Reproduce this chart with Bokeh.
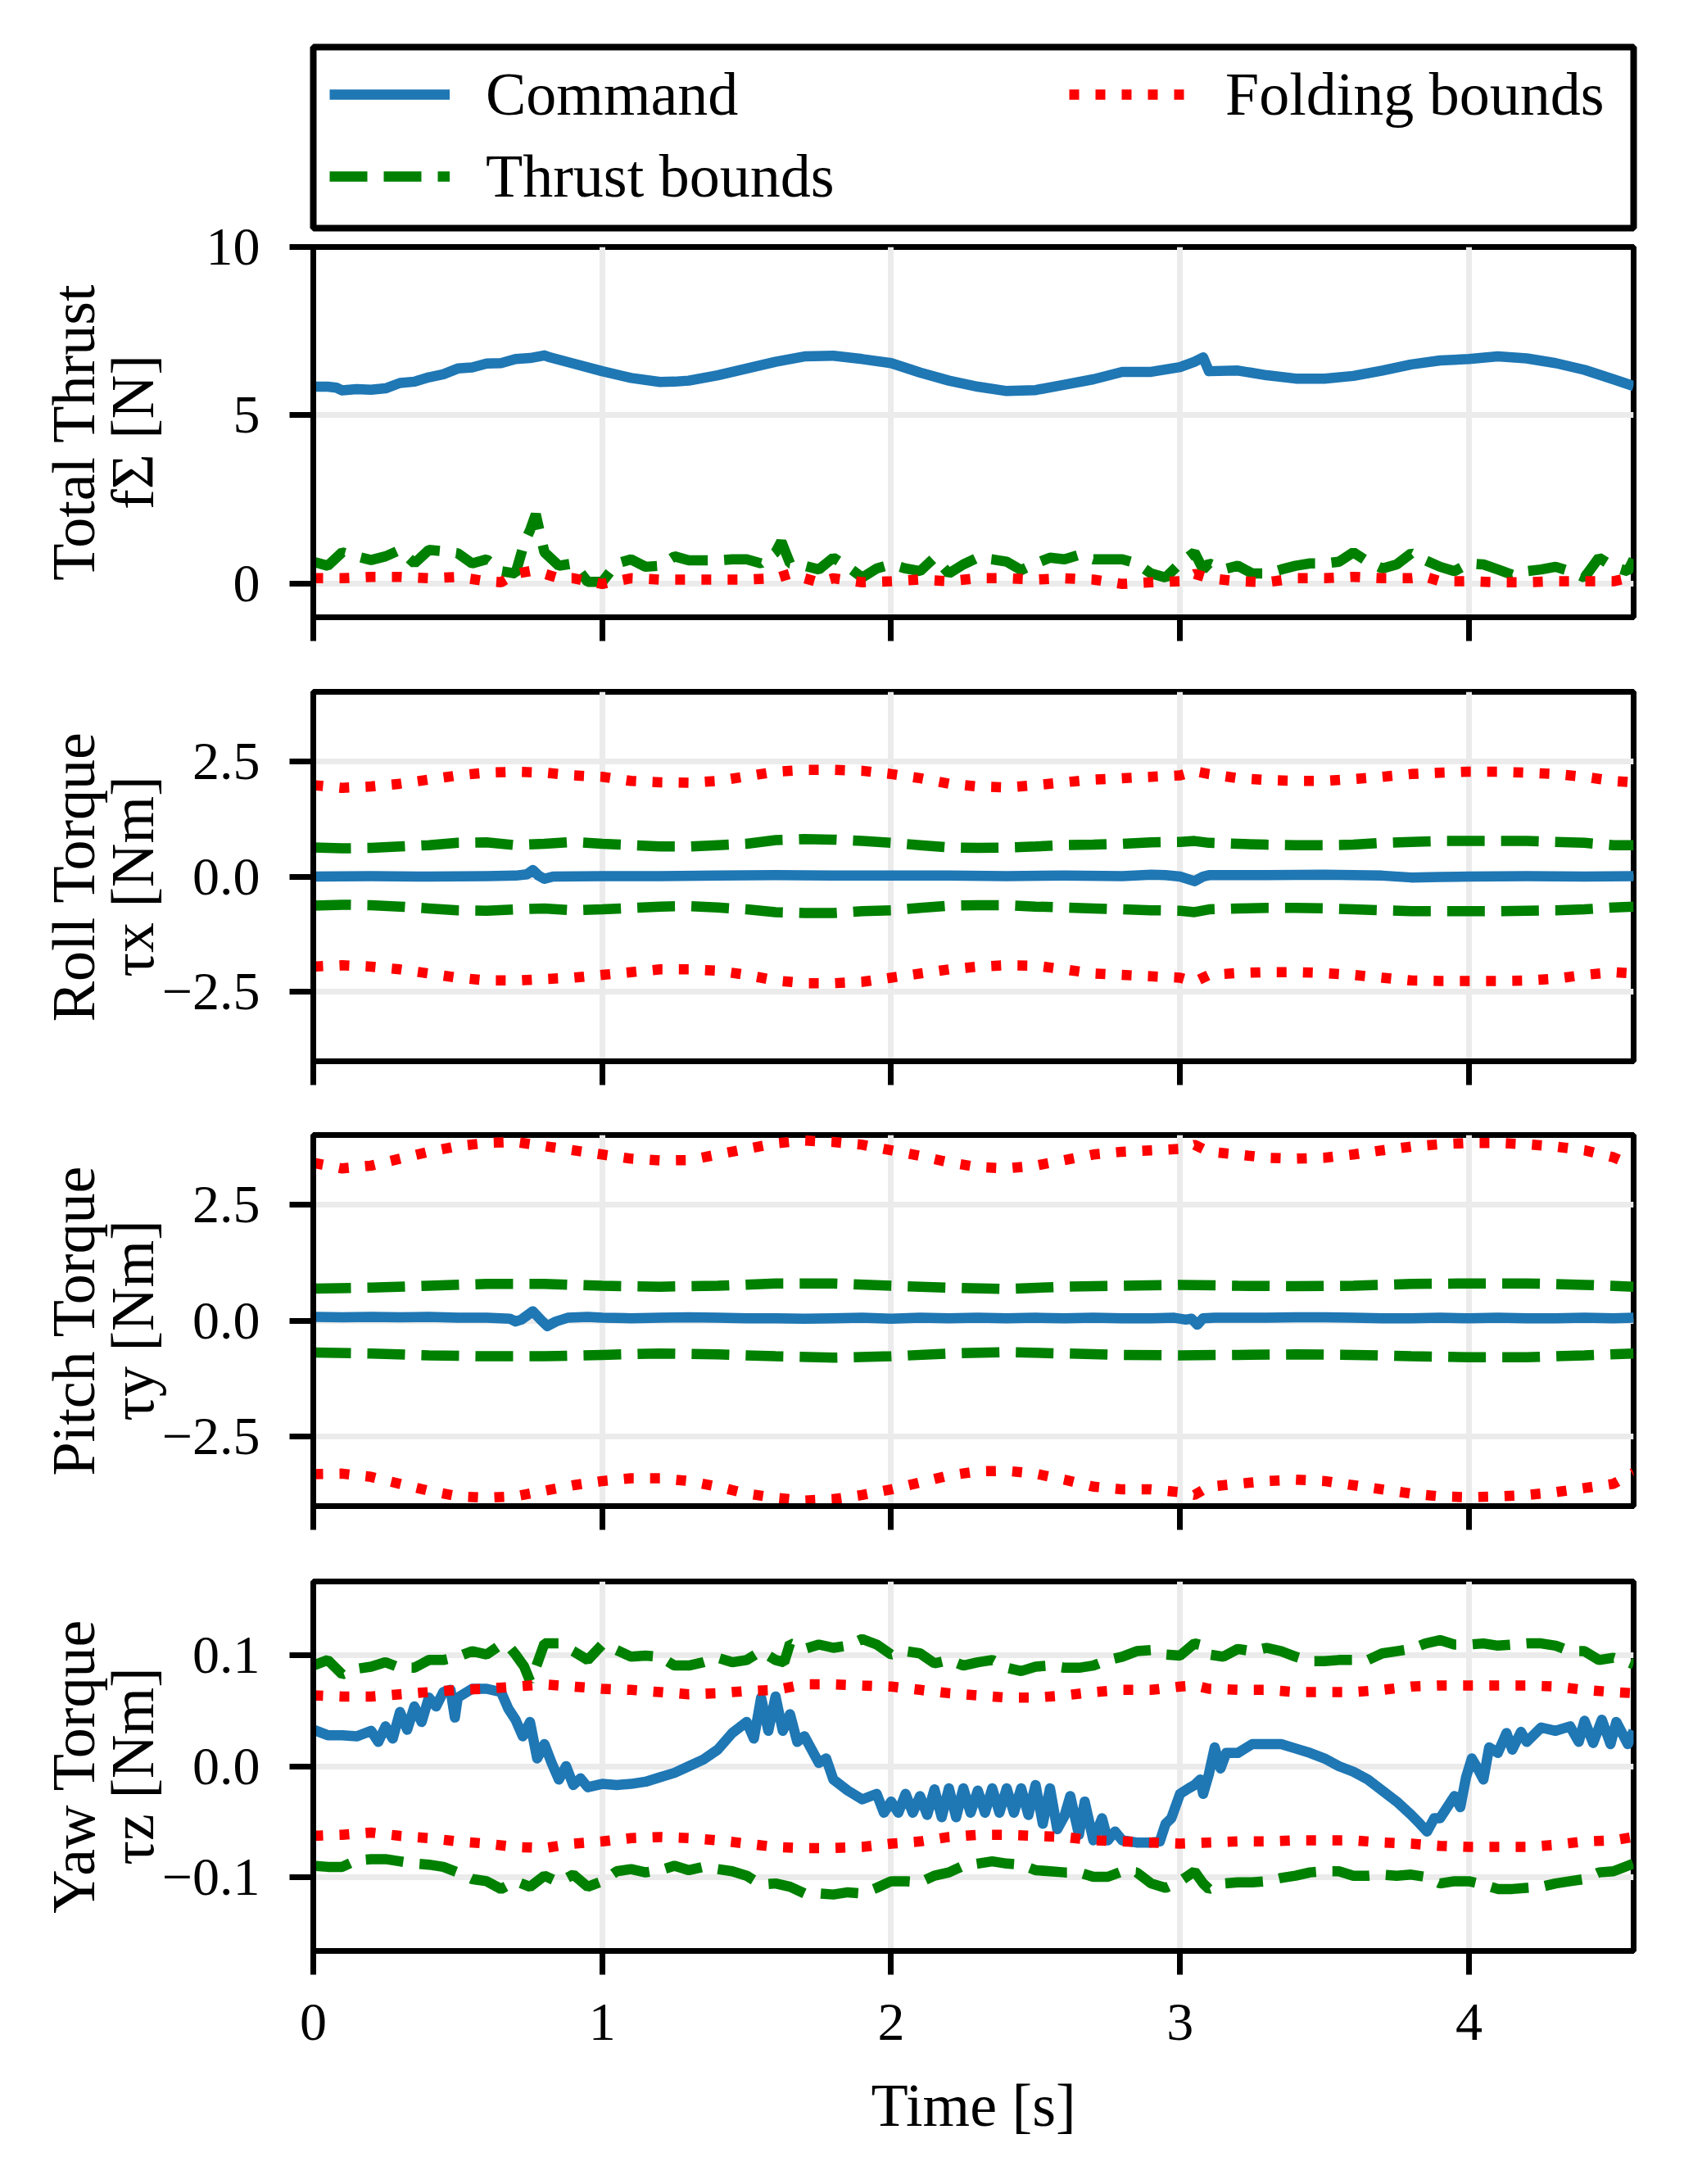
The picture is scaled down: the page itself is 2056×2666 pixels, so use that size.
from bokeh.plotting import figure
from bokeh.models import Range1d, FixedTicker, Legend, LegendItem
from bokeh.layouts import column
from bokeh.embed import file_html
from bokeh.resources import INLINE

# ---------------- data ----------------
X_TICKS = [0, 1, 2, 3, 4]
X_MAX = 4.57

# Panel 1: total thrust [N]
thrust_cmd_pts = [(0.0, 5.85), (0.05, 5.85), (0.08, 5.82), (0.1, 5.74), (0.15, 5.78), (0.2, 5.76), (0.25, 5.8),
                  (0.3, 5.96), (0.35, 6.0), (0.4, 6.13), (0.45, 6.22), (0.5, 6.39), (0.55, 6.42), (0.6, 6.54),
                  (0.65, 6.55), (0.7, 6.67), (0.75, 6.7), (0.8, 6.78), (0.82, 6.72), (0.9, 6.54), (1.0, 6.31),
                  (1.1, 6.11), (1.2, 5.99), (1.25, 6.0), (1.3, 6.03), (1.4, 6.19), (1.5, 6.39), (1.6, 6.59),
                  (1.7, 6.75), (1.8, 6.77), (1.9, 6.67), (2.0, 6.55), (2.1, 6.27), (2.2, 6.03), (2.3, 5.85),
                  (2.4, 5.72), (2.5, 5.75), (2.6, 5.91), (2.7, 6.07), (2.8, 6.29), (2.9, 6.29), (3.0, 6.43),
                  (3.05, 6.59), (3.08, 6.72), (3.1, 6.31), (3.2, 6.33), (3.3, 6.19), (3.4, 6.09), (3.5, 6.09),
                  (3.6, 6.17), (3.7, 6.33), (3.8, 6.51), (3.9, 6.63), (4.0, 6.67), (4.1, 6.75), (4.2, 6.69),
                  (4.3, 6.55), (4.4, 6.35), (4.5, 6.07), (4.57, 5.87)]
thrust_thr_lo_pts = [(0.0, 0.65), (0.05, 0.53), (0.1, 0.93), (0.15, 0.81), (0.2, 0.7), (0.25, 0.81), (0.3, 1.0),
                     (0.35, 0.6), (0.4, 1.0), (0.45, 0.96), (0.5, 0.9), (0.55, 0.6), (0.6, 0.72), (0.65, 0.37),
                     (0.7, 0.3), (0.73, 1.2), (0.75, 1.58), (0.77, 2.06), (0.8, 0.93), (0.85, 0.53), (0.9, 0.6),
                     (0.95, 0.05), (1.0, 0.05), (1.05, 0.6), (1.1, 0.72), (1.15, 0.5), (1.2, 0.53), (1.25, 0.81),
                     (1.3, 0.69), (1.35, 0.69), (1.4, 0.69), (1.45, 0.72), (1.5, 0.72), (1.55, 0.6), (1.6, 0.93),
                     (1.62, 1.25), (1.65, 0.6), (1.7, 0.53), (1.75, 0.42), (1.8, 0.77), (1.85, 0.5), (1.9, 0.18),
                     (1.95, 0.45), (2.0, 0.57), (2.05, 0.45), (2.1, 0.37), (2.15, 0.77), (2.2, 0.3), (2.25, 0.57),
                     (2.3, 0.77), (2.35, 0.72), (2.4, 0.65), (2.45, 0.4), (2.5, 0.6), (2.55, 0.77), (2.6, 0.72),
                     (2.65, 0.85), (2.7, 0.72), (2.75, 0.72), (2.8, 0.72), (2.85, 0.6), (2.9, 0.3), (2.95, 0.18),
                     (3.0, 0.6), (3.05, 0.93), (3.08, 0.42), (3.1, 0.6), (3.15, 0.42), (3.2, 0.53), (3.25, 0.3),
                     (3.3, 0.3), (3.35, 0.42), (3.4, 0.53), (3.45, 0.6), (3.5, 0.6), (3.55, 0.65), (3.6, 0.93),
                     (3.65, 0.65), (3.7, 0.45), (3.75, 0.57), (3.8, 0.9), (3.85, 0.69), (3.9, 0.5), (3.95, 0.37),
                     (4.0, 0.6), (4.05, 0.57), (4.1, 0.42), (4.15, 0.26), (4.2, 0.37), (4.25, 0.42), (4.3, 0.5),
                     (4.35, 0.37), (4.4, 0.18), (4.45, 0.77), (4.5, 0.5), (4.55, 0.37), (4.57, 0.72)]
thrust_fold_lo_pts = [(0.0, 0.16), (0.1, 0.16), (0.2, 0.2), (0.3, 0.2), (0.4, 0.16), (0.5, 0.2), (0.6, 0.07),
                      (0.65, 0.04), (0.7, 0.29), (0.75, 0.37), (0.8, 0.29), (0.85, 0.16), (0.9, 0.16), (0.95, 0.07),
                      (1.0, -0.01), (1.1, 0.16), (1.2, 0.12), (1.3, 0.12), (1.4, 0.12), (1.5, 0.12), (1.6, 0.16),
                      (1.65, 0.29), (1.7, 0.16), (1.75, 0.04), (1.8, 0.16), (1.9, 0.04), (2.0, 0.07), (2.1, 0.12),
                      (2.2, 0.07), (2.3, 0.16), (2.4, 0.16), (2.5, 0.12), (2.6, 0.16), (2.7, 0.12), (2.8, -0.01),
                      (2.9, 0.04), (3.0, 0.07), (3.05, 0.29), (3.1, 0.16), (3.2, 0.07), (3.3, 0.04), (3.4, 0.16),
                      (3.5, 0.16), (3.6, 0.2), (3.7, 0.16), (3.8, 0.16), (3.85, 0.2), (3.9, 0.07), (4.0, 0.07),
                      (4.1, 0.04), (4.2, 0.04), (4.3, 0.07), (4.4, 0.07), (4.5, 0.07), (4.57, 0.2)]

# Panels 2 & 3 share a time grid for the bounds
T10 = [0.0, 0.1, 0.2, 0.3, 0.4, 0.5, 0.6, 0.7, 0.8, 0.9, 1.0, 1.1, 1.2, 1.3, 1.4, 1.5, 1.6, 1.7, 1.8, 1.9,
       2.0, 2.1, 2.2, 2.3, 2.4, 2.5, 2.6, 2.7, 2.8, 2.9, 3.0, 3.05, 3.1, 3.2, 3.3, 3.4, 3.5, 3.6, 3.7, 3.8,
       3.9, 4.0, 4.1, 4.2, 4.3, 4.4, 4.5, 4.57]

# Panel 2: roll torque [Nm]
roll_fold_up = [1.98, 1.92, 1.95, 2.01, 2.10, 2.19, 2.25, 2.27, 2.25, 2.19, 2.16, 2.07, 2.04, 2.03, 2.07, 2.17,
                2.27, 2.31, 2.31, 2.29, 2.22, 2.13, 2.01, 1.95, 1.93, 1.98, 2.04, 2.10, 2.13, 2.16, 2.19, 2.28,
                2.22, 2.13, 2.09, 2.07, 2.07, 2.11, 2.16, 2.22, 2.25, 2.27, 2.27, 2.25, 2.22, 2.16, 2.07, 2.04]
roll_fold_lo = [-1.95, -1.92, -1.95, -2.01, -2.10, -2.19, -2.25, -2.25, -2.22, -2.19, -2.13, -2.07, -2.01, -2.01,
                -2.04, -2.13, -2.25, -2.31, -2.31, -2.28, -2.19, -2.10, -2.01, -1.95, -1.92, -1.93, -2.01, -2.10,
                -2.13, -2.16, -2.19, -2.28, -2.13, -2.09, -2.07, -2.07, -2.09, -2.13, -2.19, -2.25, -2.26, -2.26,
                -2.26, -2.25, -2.21, -2.13, -2.07, -2.10]
roll_thr_up = [0.63, 0.61, 0.62, 0.65, 0.68, 0.73, 0.74, 0.68, 0.71, 0.75, 0.71, 0.68, 0.65, 0.65, 0.68, 0.71,
               0.79, 0.81, 0.80, 0.77, 0.73, 0.68, 0.63, 0.62, 0.63, 0.65, 0.68, 0.69, 0.71, 0.74, 0.75, 0.77,
               0.73, 0.71, 0.69, 0.68, 0.68, 0.69, 0.73, 0.75, 0.77, 0.77, 0.77, 0.77, 0.75, 0.73, 0.68, 0.68]
roll_thr_lo = [-0.63, -0.61, -0.62, -0.65, -0.69, -0.73, -0.74, -0.71, -0.69, -0.73, -0.71, -0.68, -0.65, -0.64,
               -0.67, -0.71, -0.77, -0.79, -0.79, -0.75, -0.73, -0.68, -0.63, -0.62, -0.62, -0.65, -0.67, -0.69,
               -0.71, -0.73, -0.74, -0.77, -0.71, -0.69, -0.68, -0.68, -0.69, -0.71, -0.73, -0.75, -0.75, -0.75,
               -0.75, -0.74, -0.73, -0.71, -0.67, -0.65]
roll_cmd_pts = [(0.0, 0.0), (0.2, 0.01), (0.4, 0.0), (0.6, 0.01), (0.7, 0.02), (0.74, 0.05), (0.76, 0.14),
                (0.78, 0.02), (0.8, -0.05), (0.83, 0.0), (1.0, 0.01), (1.2, 0.01), (1.4, 0.02), (1.6, 0.03),
                (1.8, 0.02), (2.0, 0.02), (2.2, 0.02), (2.4, 0.01), (2.6, 0.02), (2.8, 0.01), (2.9, 0.04),
                (2.95, 0.03), (3.0, 0.0), (3.05, -0.1), (3.08, 0.0), (3.1, 0.03), (3.3, 0.03), (3.5, 0.04),
                (3.7, 0.02), (3.8, -0.02), (3.9, -0.01), (4.0, 0.0), (4.2, 0.01), (4.4, 0.0), (4.57, 0.01)]

# Panel 3: pitch torque [Nm]
pitch_fold_up = [3.40, 3.28, 3.34, 3.49, 3.64, 3.76, 3.83, 3.85, 3.76, 3.67, 3.58, 3.49, 3.45, 3.46, 3.58, 3.70,
                 3.82, 3.88, 3.85, 3.79, 3.67, 3.55, 3.41, 3.31, 3.28, 3.34, 3.46, 3.58, 3.64, 3.67, 3.70, 3.79,
                 3.64, 3.58, 3.51, 3.49, 3.51, 3.58, 3.67, 3.75, 3.80, 3.83, 3.83, 3.80, 3.75, 3.67, 3.52, 3.34]
pitch_fold_lo = [-3.31, -3.30, -3.37, -3.52, -3.67, -3.79, -3.82, -3.79, -3.67, -3.55, -3.46, -3.40, -3.40, -3.46,
                 -3.58, -3.73, -3.82, -3.88, -3.85, -3.76, -3.64, -3.49, -3.34, -3.25, -3.24, -3.30, -3.43, -3.58,
                 -3.64, -3.64, -3.70, -3.76, -3.58, -3.52, -3.46, -3.43, -3.46, -3.55, -3.64, -3.73, -3.79, -3.81,
                 -3.79, -3.76, -3.70, -3.61, -3.52, -3.28]
T20 = [0.0, 0.2, 0.4, 0.6, 0.8, 1.0, 1.2, 1.4, 1.6, 1.8, 2.0, 2.2, 2.4, 2.6, 2.8, 3.0, 3.2, 3.4, 3.6, 3.8,
       4.0, 4.2, 4.4, 4.57]
pitch_thr_up = [0.69, 0.71, 0.75, 0.79, 0.79, 0.75, 0.73, 0.75, 0.80, 0.80, 0.75, 0.71, 0.68, 0.73, 0.75, 0.77,
                0.75, 0.74, 0.75, 0.79, 0.80, 0.80, 0.77, 0.73]
pitch_thr_lo = [-0.69, -0.71, -0.75, -0.77, -0.77, -0.74, -0.71, -0.73, -0.77, -0.80, -0.77, -0.71, -0.68, -0.71,
                -0.74, -0.75, -0.74, -0.73, -0.74, -0.77, -0.79, -0.79, -0.75, -0.71]
pitch_cmd_pts = [(0.0, 0.08), (0.1, 0.07), (0.2, 0.08), (0.3, 0.07), (0.4, 0.08), (0.5, 0.06), (0.6, 0.06),
                 (0.68, 0.04), (0.7, -0.02), (0.72, 0.02), (0.76, 0.2), (0.79, 0.0), (0.81, -0.12), (0.84, -0.02),
                 (0.88, 0.06), (0.95, 0.08), (1.0, 0.06), (1.1, 0.05), (1.2, 0.06), (1.3, 0.07), (1.4, 0.06),
                 (1.5, 0.05), (1.6, 0.05), (1.7, 0.04), (1.8, 0.05), (1.9, 0.06), (2.0, 0.04), (2.1, 0.06),
                 (2.2, 0.05), (2.3, 0.06), (2.4, 0.05), (2.5, 0.06), (2.6, 0.05), (2.7, 0.06), (2.8, 0.05),
                 (2.9, 0.05), (2.98, 0.06), (3.02, 0.02), (3.04, 0.04), (3.06, -0.09), (3.08, 0.05), (3.12, 0.06),
                 (3.2, 0.06), (3.3, 0.06), (3.4, 0.07), (3.5, 0.07), (3.6, 0.06), (3.7, 0.05), (3.8, 0.05),
                 (3.9, 0.06), (4.0, 0.05), (4.1, 0.06), (4.2, 0.05), (4.3, 0.05), (4.4, 0.06), (4.5, 0.05),
                 (4.57, 0.06)]

# Panel 4: yaw torque [Nm]
yaw_cmd_pts = [(0.0, 0.033), (0.05, 0.028), (0.1, 0.028), (0.15, 0.027), (0.2, 0.032), (0.225, 0.022),
               (0.25, 0.036), (0.275, 0.025), (0.3, 0.049), (0.325, 0.033), (0.35, 0.054), (0.375, 0.040),
               (0.4, 0.062), (0.425, 0.054), (0.45, 0.067), (0.475, 0.069), (0.49, 0.044), (0.5, 0.062),
               (0.55, 0.070), (0.6, 0.070), (0.65, 0.067), (0.675, 0.052), (0.7, 0.042), (0.725, 0.027),
               (0.75, 0.040), (0.775, 0.007), (0.8, 0.020), (0.825, 0.003), (0.85, -0.012), (0.875, 0.0),
               (0.9, -0.017), (0.925, -0.011), (0.95, -0.019), (1.0, -0.016), (1.05, -0.017), (1.1, -0.016),
               (1.15, -0.014), (1.2, -0.010), (1.25, -0.006), (1.3, 0.0), (1.35, 0.006), (1.4, 0.015),
               (1.45, 0.030), (1.5, 0.040), (1.525, 0.025), (1.55, 0.062), (1.575, 0.032), (1.6, 0.063),
               (1.625, 0.032), (1.65, 0.047), (1.675, 0.022), (1.7, 0.027), (1.725, 0.015), (1.75, 0.003),
               (1.775, 0.007), (1.8, -0.012), (1.85, -0.022), (1.9, -0.030), (1.95, -0.025), (1.975, -0.042),
               (2.0, -0.032), (2.025, -0.042), (2.05, -0.025), (2.075, -0.042), (2.1, -0.027), (2.125, -0.044),
               (2.15, -0.021), (2.175, -0.046), (2.2, -0.020), (2.225, -0.046), (2.25, -0.020), (2.275, -0.042),
               (2.3, -0.022), (2.325, -0.042), (2.35, -0.020), (2.375, -0.042), (2.4, -0.020), (2.425, -0.042),
               (2.45, -0.020), (2.475, -0.044), (2.5, -0.017), (2.525, -0.052), (2.55, -0.020), (2.575, -0.057),
               (2.6, -0.045), (2.62, -0.027), (2.65, -0.062), (2.67, -0.032), (2.7, -0.067), (2.73, -0.047),
               (2.75, -0.067), (2.775, -0.059), (2.8, -0.067), (2.85, -0.069), (2.9, -0.069), (2.93, -0.068),
               (2.95, -0.052), (2.97, -0.047), (3.0, -0.025), (3.03, -0.020), (3.05, -0.017), (3.07, -0.012),
               (3.08, -0.025), (3.1, -0.007), (3.12, 0.017), (3.14, -0.002), (3.16, 0.012), (3.2, 0.012),
               (3.25, 0.020), (3.3, 0.020), (3.35, 0.020), (3.4, 0.016), (3.45, 0.012), (3.5, 0.007),
               (3.55, 0.0), (3.6, -0.005), (3.65, -0.012), (3.7, -0.022), (3.75, -0.032), (3.8, -0.044),
               (3.83, -0.052), (3.855, -0.059), (3.88, -0.047), (3.9, -0.047), (3.93, -0.035), (3.95, -0.027),
               (3.97, -0.037), (3.99, -0.010), (4.01, 0.007), (4.03, -0.002), (4.05, -0.012), (4.07, 0.017),
               (4.1, 0.012), (4.13, 0.030), (4.15, 0.015), (4.18, 0.031), (4.2, 0.022), (4.25, 0.035),
               (4.3, 0.032), (4.35, 0.036), (4.38, 0.022), (4.4, 0.041), (4.43, 0.021), (4.46, 0.042),
               (4.49, 0.020), (4.51, 0.040), (4.55, 0.020), (4.57, 0.032)]
yaw_thr_up_pts = [(0.0, 0.091), (0.05, 0.096), (0.1, 0.083), (0.15, 0.088), (0.2, 0.090), (0.25, 0.094),
                  (0.3, 0.089), (0.35, 0.089), (0.4, 0.096), (0.45, 0.096), (0.5, 0.099), (0.55, 0.104),
                  (0.6, 0.101), (0.65, 0.110), (0.675, 0.109), (0.7, 0.101), (0.73, 0.090), (0.75, 0.077),
                  (0.77, 0.089), (0.8, 0.111), (0.85, 0.111), (0.9, 0.104), (0.95, 0.096), (1.0, 0.110),
                  (1.05, 0.105), (1.1, 0.099), (1.15, 0.100), (1.2, 0.099), (1.25, 0.091), (1.3, 0.091),
                  (1.35, 0.094), (1.4, 0.098), (1.45, 0.094), (1.5, 0.096), (1.55, 0.104), (1.6, 0.096),
                  (1.63, 0.094), (1.65, 0.111), (1.7, 0.106), (1.75, 0.110), (1.8, 0.107), (1.85, 0.109),
                  (1.9, 0.115), (1.95, 0.110), (2.0, 0.101), (2.05, 0.104), (2.1, 0.102), (2.15, 0.093),
                  (2.2, 0.096), (2.25, 0.091), (2.3, 0.094), (2.35, 0.096), (2.4, 0.089), (2.45, 0.086),
                  (2.5, 0.090), (2.55, 0.091), (2.6, 0.089), (2.65, 0.089), (2.7, 0.091), (2.75, 0.096),
                  (2.8, 0.099), (2.85, 0.104), (2.9, 0.105), (2.95, 0.101), (3.0, 0.100), (3.05, 0.111),
                  (3.08, 0.109), (3.1, 0.101), (3.15, 0.099), (3.2, 0.106), (3.25, 0.104), (3.3, 0.107),
                  (3.35, 0.104), (3.4, 0.099), (3.45, 0.095), (3.5, 0.095), (3.55, 0.096), (3.6, 0.096),
                  (3.65, 0.096), (3.7, 0.102), (3.75, 0.104), (3.8, 0.106), (3.85, 0.111), (3.9, 0.114),
                  (3.95, 0.110), (4.0, 0.110), (4.05, 0.111), (4.1, 0.109), (4.15, 0.110), (4.2, 0.111),
                  (4.25, 0.111), (4.3, 0.109), (4.35, 0.104), (4.4, 0.104), (4.45, 0.096), (4.5, 0.098),
                  (4.55, 0.094), (4.57, 0.092)]
yaw_thr_lo_pts = [(0.0, -0.090), (0.05, -0.091), (0.1, -0.091), (0.15, -0.085), (0.2, -0.084), (0.25, -0.084),
                  (0.3, -0.086), (0.35, -0.088), (0.4, -0.089), (0.45, -0.091), (0.5, -0.096), (0.55, -0.102),
                  (0.6, -0.104), (0.65, -0.111), (0.7, -0.104), (0.75, -0.109), (0.8, -0.099), (0.85, -0.105),
                  (0.9, -0.098), (0.95, -0.109), (1.0, -0.104), (1.05, -0.095), (1.1, -0.093), (1.15, -0.096),
                  (1.2, -0.094), (1.25, -0.090), (1.3, -0.094), (1.35, -0.091), (1.4, -0.093), (1.45, -0.095),
                  (1.5, -0.099), (1.55, -0.107), (1.6, -0.106), (1.65, -0.109), (1.7, -0.115), (1.75, -0.115),
                  (1.8, -0.116), (1.85, -0.114), (1.9, -0.115), (1.95, -0.110), (2.0, -0.104), (2.05, -0.104),
                  (2.1, -0.105), (2.15, -0.099), (2.2, -0.096), (2.25, -0.090), (2.3, -0.088), (2.35, -0.086),
                  (2.4, -0.088), (2.45, -0.089), (2.5, -0.094), (2.55, -0.095), (2.6, -0.096), (2.65, -0.096),
                  (2.7, -0.100), (2.75, -0.100), (2.8, -0.095), (2.85, -0.096), (2.9, -0.106), (2.95, -0.110),
                  (3.0, -0.104), (3.05, -0.095), (3.08, -0.106), (3.1, -0.111), (3.15, -0.106), (3.2, -0.105),
                  (3.25, -0.105), (3.3, -0.104), (3.35, -0.101), (3.4, -0.099), (3.45, -0.096), (3.5, -0.095),
                  (3.55, -0.095), (3.6, -0.099), (3.65, -0.099), (3.7, -0.098), (3.75, -0.099), (3.8, -0.098),
                  (3.85, -0.100), (3.9, -0.106), (3.95, -0.104), (4.0, -0.104), (4.05, -0.107), (4.1, -0.111),
                  (4.15, -0.111), (4.2, -0.110), (4.25, -0.109), (4.3, -0.106), (4.35, -0.104), (4.4, -0.102),
                  (4.45, -0.096), (4.5, -0.095), (4.55, -0.090), (4.57, -0.088)]
yaw_fold_up_pts = [(0.0, 0.064), (0.1, 0.063), (0.2, 0.063), (0.3, 0.065), (0.4, 0.067), (0.5, 0.069),
                   (0.6, 0.070), (0.7, 0.072), (0.8, 0.074), (0.9, 0.072), (1.0, 0.070), (1.1, 0.069),
                   (1.2, 0.067), (1.3, 0.065), (1.4, 0.066), (1.5, 0.068), (1.6, 0.069), (1.7, 0.074),
                   (1.8, 0.074), (1.9, 0.073), (2.0, 0.072), (2.1, 0.069), (2.2, 0.066), (2.3, 0.064),
                   (2.4, 0.062), (2.5, 0.062), (2.6, 0.064), (2.7, 0.067), (2.8, 0.069), (2.9, 0.069),
                   (3.0, 0.072), (3.05, 0.073), (3.1, 0.070), (3.2, 0.069), (3.3, 0.069), (3.4, 0.067),
                   (3.5, 0.067), (3.6, 0.067), (3.7, 0.069), (3.8, 0.072), (3.9, 0.073), (4.0, 0.073),
                   (4.1, 0.073), (4.2, 0.073), (4.3, 0.072), (4.4, 0.069), (4.5, 0.067), (4.57, 0.066)]
yaw_fold_lo_pts = [(0.0, -0.063), (0.1, -0.062), (0.2, -0.060), (0.3, -0.063), (0.4, -0.065), (0.5, -0.068),
                   (0.6, -0.070), (0.7, -0.073), (0.8, -0.074), (0.9, -0.070), (1.0, -0.068), (1.1, -0.065),
                   (1.2, -0.064), (1.3, -0.065), (1.4, -0.067), (1.5, -0.070), (1.6, -0.073), (1.7, -0.074),
                   (1.8, -0.074), (1.9, -0.073), (2.0, -0.070), (2.1, -0.068), (2.2, -0.064), (2.3, -0.062),
                   (2.4, -0.062), (2.5, -0.063), (2.6, -0.064), (2.7, -0.067), (2.8, -0.068), (2.9, -0.069),
                   (3.0, -0.070), (3.1, -0.069), (3.2, -0.068), (3.3, -0.068), (3.4, -0.067), (3.5, -0.067),
                   (3.6, -0.067), (3.7, -0.069), (3.8, -0.070), (3.9, -0.072), (4.0, -0.073), (4.1, -0.073),
                   (4.2, -0.073), (4.3, -0.071), (4.4, -0.068), (4.5, -0.067), (4.57, -0.064)]

# tick labels per panel
thrust_yticks = {0: "0", 5: "5", 10: "10"}
roll_yticks = {-2.5: "\u22122.5", 0: "0.0", 2.5: "2.5"}
pitch_yticks = {-2.5: "\u22122.5", 0: "0.0", 2.5: "2.5"}
yaw_yticks = {-0.1: "\u22120.1", 0: "0.0", 0.1: "0.1"}

LABELS = ["Command", "Thrust bounds", "Folding bounds"]

# ---------------- styling ----------------
BLUE, GREEN, RED = "#1f77b4", "#008000", "#ff0000"
LW = 12.5
DASH = "46 20"
DOT = "12 20"
FONT = "Liberation Serif"
GRID = "#ebebeb"
FW = 1612
LEFT = 382
NAN = float("nan")


def split(pts):
    return [a for a, _ in pts], [b for _, b in pts]


def make_panel(yr, yticks, ylabel, top, bottom, fh, last, label_standoff):
    p = figure(frame_width=FW, frame_height=fh, min_border_left=LEFT, min_border_right=30,
               min_border_top=top, min_border_bottom=bottom,
               x_range=Range1d(0, X_MAX), y_range=Range1d(*yr),
               output_backend="svg", toolbar_location=None)
    p.background_fill_color = "white"
    p.border_fill_color = "white"
    p.outline_line_color = "black"
    p.outline_line_width = 7
    p.outline_line_alpha = 1.0
    for ax in (p.xaxis[0], p.yaxis[0]):
        ax.axis_line_width = 7
        ax.axis_line_color = "black"
        ax.major_tick_line_width = 7
        ax.major_tick_line_color = "black"
        ax.major_tick_out = 29
        ax.major_tick_in = 0
        ax.minor_tick_line_color = None
        ax.major_label_text_font = FONT
        ax.major_label_text_font_size = "66px"
        ax.major_label_text_color = "black"
        ax.major_label_standoff = 36
        ax.axis_label_text_font = FONT
        ax.axis_label_text_font_size = "74px"
        ax.axis_label_text_font_style = "normal"
        ax.axis_label_text_color = "black"
        ax.axis_label_text_line_height = 0.87
    p.xaxis.ticker = FixedTicker(ticks=X_TICKS)
    p.yaxis.ticker = FixedTicker(ticks=list(yticks.keys()))
    p.yaxis.major_label_overrides = dict(yticks)
    p.yaxis.axis_label = ylabel
    p.yaxis.axis_label_standoff = label_standoff
    if last:
        p.xaxis.major_label_overrides = {t: str(t) for t in X_TICKS}
        p.xaxis.axis_label = "Time [s]"
        p.xaxis.axis_label_standoff = 36
    else:
        p.xaxis.major_label_overrides = {t: "" for t in X_TICKS}
        p.xaxis.major_label_text_font_size = "0px"
        p.xaxis.major_label_standoff = 0
    for g in (p.xgrid[0], p.ygrid[0]):
        g.grid_line_color = GRID
        g.grid_line_width = 7
    return p


def cmd(p, x, y):
    return p.line(x, y, line_color=BLUE, line_width=LW, line_join="round")


def thr(p, x, y):
    return p.line(x, y, line_color=GREEN, line_width=LW, line_dash=DASH)


def fold(p, x, y):
    return p.line(x, y, line_color=RED, line_width=LW, line_dash=DOT)


# ---------------- legend strip (its frame is the legend box) ----------------
LEG_H = 221
leg = figure(frame_width=FW, frame_height=LEG_H, min_border_left=LEFT, min_border_right=30,
             min_border_top=57, min_border_bottom=10, x_range=Range1d(0, 1), y_range=Range1d(0, 1),
             x_axis_location=None, y_axis_location=None, output_backend="svg", toolbar_location=None)
leg.grid.visible = False
leg.outline_line_color = "black"
leg.outline_line_width = 8
leg.outline_line_alpha = 1.0
leg.background_fill_color = "white"
leg.border_fill_color = "white"
# legend-only renderers (no visible data)
r_cmd = leg.line(x=[0, 1], y=[NAN, NAN], line_color=BLUE, line_width=LW)
r_thr = leg.line(x=[0, 1], y=[NAN, NAN], line_color=GREEN, line_width=LW, line_dash=DASH)
r_fold = leg.line(x=[0, 1], y=[NAN, NAN], line_color=RED, line_width=LW, line_dash=DOT)


def legend_box(items, loc):
    return Legend(items=items, location=loc, orientation="vertical", padding=0, spacing=14,
                  glyph_width=147, glyph_height=86, label_height=86, label_standoff=44, margin=0,
                  border_line_alpha=0, background_fill_alpha=0,
                  label_text_font=FONT, label_text_font_size="74px", label_text_color="black")


leg.add_layout(legend_box([LegendItem(label=LABELS[0], renderers=[r_cmd]),
                           LegendItem(label=LABELS[1], renderers=[r_thr])], (20, 20)))
leg.add_layout(legend_box([LegendItem(label=LABELS[2], renderers=[r_fold])], (923, 120)))

# ---------------- panels ----------------
OVERLAP = 40   # first panel's transparent top border slides under the legend strip
p1 = make_panel((-1, 10), thrust_yticks, "Total Thrust\nf\u03a3 [N]", 13 + OVERLAP, 45, 452, False, 46)
p1.border_fill_alpha = 0
p1.margin = (-OVERLAP, 0, 0, 0)
cmd(p1, *split(thrust_cmd_pts))
thr(p1, *split(thrust_thr_lo_pts))
fold(p1, *split(thrust_fold_lo_pts))

p2 = make_panel((-4, 4), roll_yticks, "Roll Torque\n\u03c4x [Nm]", 46, 45, 451, False, -8)
cmd(p2, *split(roll_cmd_pts))
thr(p2, T10, roll_thr_up)
thr(p2, T10, roll_thr_lo)
fold(p2, T10, roll_fold_up)
fold(p2, T10, roll_fold_lo)

p3 = make_panel((-4, 4), pitch_yticks, "Pitch Torque\n\u03c4y [Nm]", 45, 45, 453, False, -8)
cmd(p3, *split(pitch_cmd_pts))
thr(p3, T20, pitch_thr_up)
thr(p3, T20, pitch_thr_lo)
fold(p3, T10, pitch_fold_up)
fold(p3, T10, pitch_fold_lo)

p4 = make_panel((-0.167, 0.167), yaw_yticks, "Yaw Torque\n\u03c4z [Nm]", 47, 240, 451, True, -8)
cmd(p4, *split(yaw_cmd_pts))
thr(p4, *split(yaw_thr_up_pts))
thr(p4, *split(yaw_thr_lo_pts))
fold(p4, *split(yaw_fold_up_pts))
fold(p4, *split(yaw_fold_lo_pts))

page = column(leg, p1, p2, p3, p4, spacing=0)

with open("out.html", "w") as f:
    f.write(file_html(page, INLINE, title="Command and bounds"))
